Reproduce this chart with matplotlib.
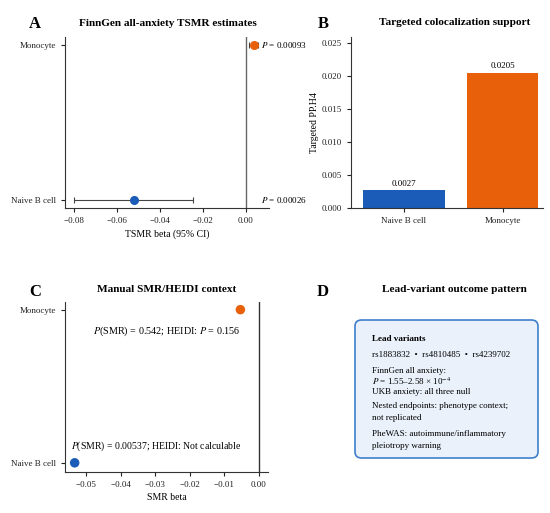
import matplotlib
matplotlib.use("Agg")
import matplotlib.pyplot as plt
from matplotlib.patches import FancyBboxPatch
from matplotlib.ticker import FormatStrFormatter

plt.rcParams['font.family'] = ['Liberation Serif', 'DejaVu Serif']
plt.rcParams['mathtext.fontset'] = 'stix'

# -------- data --------
cells = ["Naive B cell", "Monocyte"]
colors = ["#1a5cb8", "#e8600a"]

# A: TSMR estimates
tsmr_beta = [-0.052, 0.0036]
tsmr_lo = [-0.080, 0.0015]
tsmr_hi = [-0.0245, 0.0057]
tsmr_p = ["0.00026", "0.00093"]

# B: targeted colocalization
pph4 = [0.0027, 0.0205]

# C: manual SMR/HEIDI
smr_beta = [-0.0533, -0.0053]
smr_labels = ["$P$(SMR) = 0.00537; HEIDI: Not calculable",
              "$P$(SMR) = 0.542; HEIDI: $P$ = 0.156"]

# D: lead-variant summary
lead_title = "Lead variants"
lead_lines = ["rs1883832  \u2022  rs4810485  \u2022  rs4239702",
              "FinnGen all anxiety:",
              "$P$ = 1.55\u20132.58 \u00d7 10$^{-4}$",
              "UKB anxiety: all three null",
              "Nested endpoints: phenotype context;",
              "not replicated",
              "PheWAS: autoimmune/inflammatory",
              "pleiotropy warning"]

W, H = 550, 513
fig = plt.figure(figsize=(5.5, 5.13), dpi=100)


def box(l, t, r, b):
    return [l / W, 1 - b / H, (r - l) / W, (b - t) / H]


def fx(x, y):
    return x / W, 1 - y / H


def style(ax):
    for s in ["top", "right"]:
        ax.spines[s].set_visible(False)
    for s in ["left", "bottom"]:
        ax.spines[s].set_linewidth(0.8)
        ax.spines[s].set_color("#333333")
    ax.tick_params(labelsize=6.5, width=0.8, length=3, colors="#222222")


title_kw = dict(fontsize=8.1, fontweight="bold", ha="center", va="center")
letter_kw = dict(fontsize=12, fontweight="bold", ha="center", va="center")

# -------- A --------
axA = fig.add_axes(box(65, 37, 269, 208))
style(axA)
axA.axvline(0, color="#666666", lw=1)
ypos = list(range(len(cells)))
for i in ypos:
    axA.errorbar(tsmr_beta[i], i,
                 xerr=[[tsmr_beta[i] - tsmr_lo[i]], [tsmr_hi[i] - tsmr_beta[i]]],
                 fmt="o", color=colors[i], ms=5.5, ecolor="#444444",
                 elinewidth=0.8, capsize=2.5, capthick=0.8, zorder=3)
    axA.text(0.007, i, "$P$ = " + tsmr_p[i], fontsize=6.5, va="center", ha="left")
axA.set_yticks(ypos)
axA.set_yticklabels(cells)
axA.set_ylim(-0.05, 1.05)
axA.set_xlim(-0.0842, 0.0107)
ticksA = [-0.08, -0.06, -0.04, -0.02, 0.0]
axA.set_xticks(ticksA)
axA.set_xticklabels([f"{t:.2f}".replace("-", "\u2212") for t in ticksA])
axA.set_xlabel("TSMR beta (95% CI)", fontsize=7, labelpad=3)

# -------- B --------
axB = fig.add_axes(box(351, 37, 543, 208))
style(axB)
bars = axB.bar(ypos, pph4, width=[0.83, 0.72], color=colors)
for i, v in enumerate(pph4):
    axB.text(i, v + 0.0004, f"{v:.4f}", ha="center", va="bottom", fontsize=6.5)
axB.set_xticks(ypos)
axB.set_xticklabels(cells)
axB.set_xlim(-0.533, 1.406)
axB.set_ylim(0, 0.0259)
axB.set_yticks([0, 0.005, 0.010, 0.015, 0.020, 0.025])
axB.yaxis.set_major_formatter(FormatStrFormatter("%.3f"))
axB.set_ylabel("Targeted PP.H4", fontsize=7, labelpad=2)

# -------- C --------
axC = fig.add_axes(box(65, 302, 268, 472))
style(axC)
axC.axvline(0, color="#333333", lw=1)
axC.scatter(smr_beta, ypos, c=colors, s=34, zorder=3)
axC.text(-0.0543, 0.105, smr_labels[0], fontsize=7, ha="left", va="center")
axC.text(-0.0266, 0.856, smr_labels[1], fontsize=7.3, ha="center", va="center")
axC.set_yticks(ypos)
axC.set_yticklabels(cells)
axC.set_ylim(-0.06, 1.05)
axC.set_xlim(-0.0561, 0.0027)
ticksC = [-0.05, -0.04, -0.03, -0.02, -0.01, 0.0]
axC.set_xticks(ticksC)
axC.set_xticklabels([f"{t:.2f}".replace("-", "\u2212") for t in ticksC])
axC.set_xlabel("SMR beta", fontsize=7, labelpad=3)

# -------- D --------
fig.patches.append(FancyBboxPatch(fx(355, 458), (538 - 355) / W, (458 - 320) / H,
                                  boxstyle="round,pad=0,rounding_size=0.012",
                                  transform=fig.transFigure, facecolor="#eaf1fa",
                                  edgecolor="#3f7fcc", lw=1.2))
fig.text(*fx(372, 339), lead_title, fontsize=6.6, fontweight="bold", va="center")
line_y = [355, 371, 381.5, 392.5, 406, 418, 434, 446]
for y, s in zip(line_y, lead_lines):
    fig.text(*fx(372, y), s, fontsize=6.5, va="center")

# -------- titles and panel letters --------
fig.text(*fx(168, 24), "FinnGen all-anxiety TSMR estimates", **title_kw)
fig.text(*fx(455, 23), "Targeted colocalization support", **title_kw)
fig.text(*fx(167, 290), "Manual SMR/HEIDI context", **title_kw)
fig.text(*fx(454, 290), "Lead-variant outcome pattern", **title_kw)
fig.text(*fx(35, 24), "A", **letter_kw)
fig.text(*fx(323, 24), "B", **letter_kw)
fig.text(*fx(35, 292), "C", **letter_kw)
fig.text(*fx(323, 292), "D", **letter_kw)

fig.savefig("out.png", dpi=100)
